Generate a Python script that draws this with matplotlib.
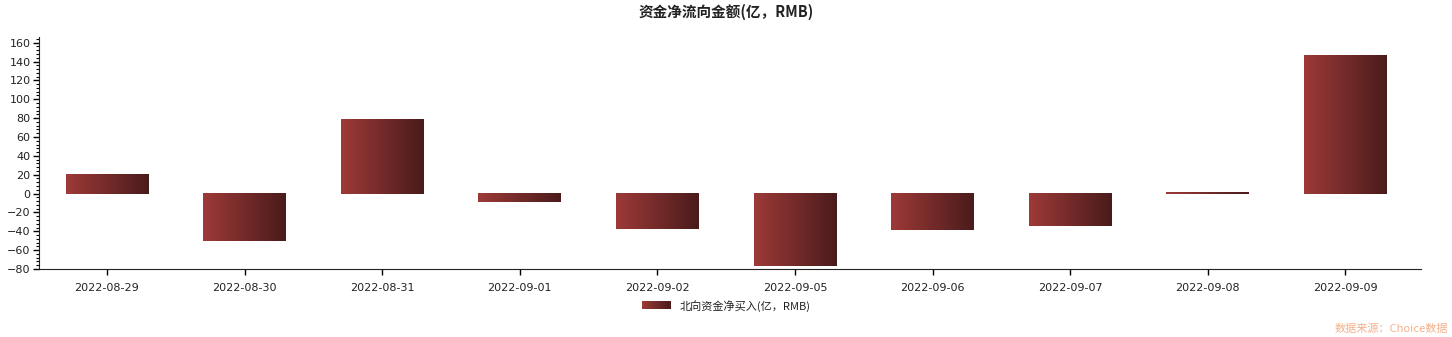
import numpy as np
import matplotlib
matplotlib.use("Agg")
import matplotlib.pyplot as plt
from matplotlib.colors import LinearSegmentedColormap
from matplotlib.legend_handler import HandlerBase
from matplotlib.patches import Rectangle
from matplotlib.ticker import MultipleLocator

plt.rcParams['font.family'] = ['Noto Sans CJK SC', 'DejaVu Sans']

dates = ["2022-08-29", "2022-08-30", "2022-08-31", "2022-09-01", "2022-09-02",
         "2022-09-05", "2022-09-06", "2022-09-07", "2022-09-08", "2022-09-09"]
net_buy = [21.0, -50.0, 79.5, -8.5, -38.0, -76.5, -39.0, -34.0, 2.0, 147.0]

title = "资金净流向金额(亿，RMB)"
series_name = "北向资金净买入(亿，RMB)"
source = "数据来源：Choice数据"

c_left = "#9d3a38"
c_right = "#4a1b1b"
cmap = LinearSegmentedColormap.from_list("grad", [c_left, c_right])

fig = plt.figure(figsize=(14.52, 3.37), dpi=100)
ax = fig.add_axes([39/1452, 1-269/337, (1421-39)/1452, (269-37)/337])

x = np.arange(len(dates))
bars = ax.bar(x, net_buy, width=0.6, color="none", edgecolor="none", label=series_name)
grad = np.linspace(0, 1, 256).reshape(1, -1)
for b in bars:
    x0, y0, w, h = b.get_x(), b.get_y(), b.get_width(), b.get_height()
    ax.imshow(grad, cmap=cmap, aspect="auto", extent=(x0, x0 + w, y0, y0 + h),
              origin="lower", zorder=2, interpolation="bilinear")

ax.set_xlim(-0.494, len(dates) - 0.45)
ax.set_ylim(-80, 166)
ax.set_xticks(x)
ax.set_xticklabels(dates, fontsize=8, color="#222222", family="DejaVu Sans")
ax.yaxis.set_major_locator(MultipleLocator(20))
ax.yaxis.set_minor_locator(MultipleLocator(4))
ax.set_yticks(np.arange(-80, 161, 20))
ax.tick_params(axis="y", labelsize=8, labelcolor="#222222", length=4, width=1, pad=2)
ax.tick_params(axis="y", which="minor", length=2.5, width=0.8)
ax.tick_params(axis="x", length=4, width=1, pad=6)
for lab in ax.get_yticklabels():
    lab.set_family("DejaVu Sans")
ax.spines["top"].set_visible(False)
ax.spines["right"].set_visible(False)
ax.spines["left"].set_color("#222222")
ax.spines["bottom"].set_color("#222222")

fig.text(726/1452, 1-12/337, title, ha="center", va="center", fontsize=10.5,
         fontweight="bold", color="#222222")


class GradHandler(HandlerBase):
    def create_artists(self, legend, orig_handle, xdescent, ydescent, width, height, fontsize, trans):
        n = 30
        arts = []
        for i in range(n):
            r = Rectangle((xdescent + width * i / n, ydescent), width / n + 0.3, height,
                          facecolor=cmap(i / (n - 1)), edgecolor="none", transform=trans)
            arts.append(r)
        return arts


leg = fig.legend([bars], [series_name], loc="center", bbox_to_anchor=(726/1452, 1-306/337),
                 frameon=False, fontsize=8, handler_map={type(bars): GradHandler()},
                 handlelength=2.6, handleheight=0.8, handletextpad=0.8)
for t in leg.get_texts():
    t.set_color("#222222")

fig.text(1448/1452, 1-329/337, source, ha="right", va="center", fontsize=8, color="#f4b08a")

fig.savefig("out.png", dpi=100)
